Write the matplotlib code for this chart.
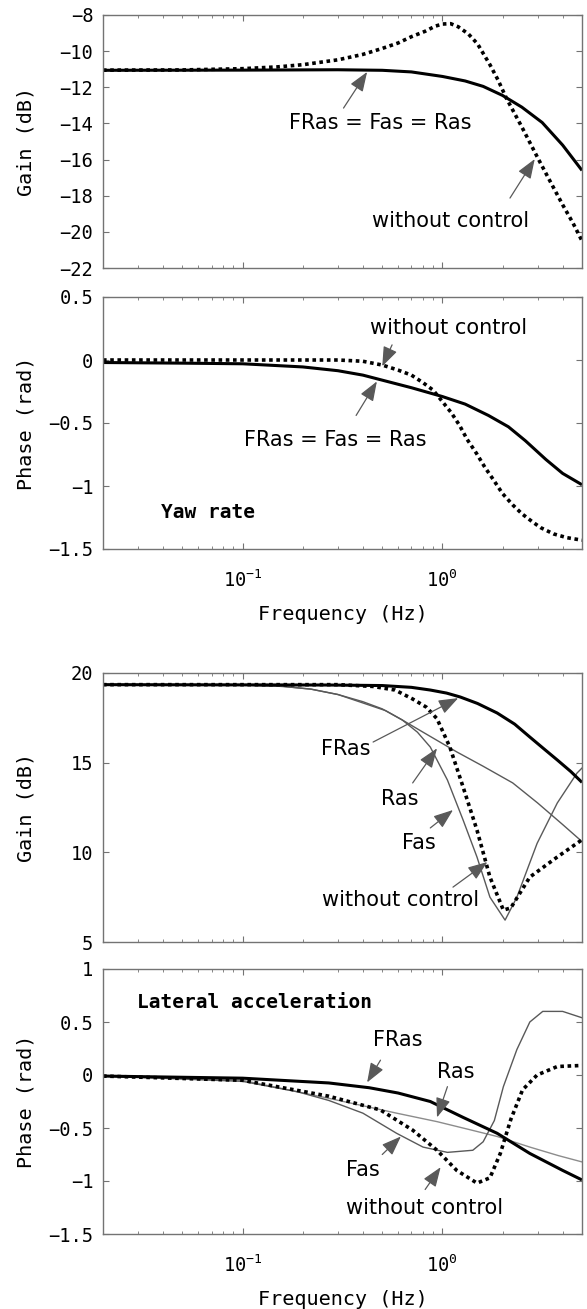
import numpy as np
import matplotlib
matplotlib.use("Agg")
import matplotlib.pyplot as plt
from matplotlib.ticker import NullFormatter, FixedLocator, FixedFormatter

# ---------------------------
# Data
# ---------------------------
# Yaw rate gain (dB)
yg_f_ctrl = [0.02, 0.1, 0.3, 0.5, 0.7, 1.0, 1.3, 1.6, 2.0, 2.5, 3.16, 4.0, 5.0]
yg_ctrl = [-11.06, -11.05, -11.03, -11.06, -11.15, -11.4, -11.65, -11.95, -12.45, -13.1, -13.95, -15.2, -16.6]
yg_f_none = [0.02, 0.05, 0.1, 0.15, 0.2, 0.3, 0.4, 0.5, 0.6, 0.7, 0.82, 0.92, 1.0, 1.1, 1.2,
             1.35, 1.5, 1.73, 1.9, 2.09, 2.5, 3.0, 3.5, 4.0, 4.5, 5.0]
yg_none = [-11.05, -11.04, -10.97, -10.87, -10.75, -10.48, -10.18, -9.85, -9.55, -9.2, -8.9, -8.62,
           -8.5, -8.48, -8.65, -9.05, -9.6, -10.75, -11.6, -12.6, -14.2, -15.9, -17.3, -18.5, -19.5, -20.5]

# Yaw rate phase (rad)
yp_f_ctrl = [0.02, 0.05, 0.1, 0.2, 0.3, 0.4, 0.5, 0.7, 1.0, 1.3, 1.7, 2.14, 2.6, 3.3, 4.0, 5.0]
yp_ctrl = [-0.02, -0.025, -0.03, -0.055, -0.085, -0.12, -0.16, -0.22, -0.29, -0.35, -0.44, -0.53,
           -0.64, -0.79, -0.9, -0.99]
yp_f_none = [0.02, 0.3, 0.4, 0.5, 0.6, 0.7, 0.8, 0.9, 1.0, 1.11, 1.22, 1.33, 1.48, 1.63, 1.8, 2.0,
             2.25, 2.5, 2.8, 3.1, 3.6, 4.2, 5.0]
yp_none = [0.0, 0.0, -0.01, -0.04, -0.08, -0.12, -0.18, -0.24, -0.33, -0.42, -0.52, -0.63, -0.74,
           -0.85, -0.95, -1.06, -1.15, -1.22, -1.28, -1.33, -1.38, -1.41, -1.43]

# Lateral acceleration gain (dB)
lg_f_fras = [0.02, 0.27, 0.5, 0.7, 0.87, 1.05, 1.23, 1.5, 1.88, 2.3, 2.74, 3.2, 3.76, 4.4, 5.0]
lg_fras = [19.35, 19.33, 19.3, 19.2, 19.05, 18.88, 18.66, 18.3, 17.77, 17.15, 16.43, 15.8, 15.15, 14.5, 13.9]
lg_f_ras = [0.02, 0.1, 0.16, 0.22, 0.3, 0.4, 0.5, 0.63, 0.8, 1.18, 1.6, 2.25, 3.0, 4.0, 5.0]
lg_ras = [19.35, 19.33, 19.25, 19.1, 18.8, 18.4, 18.0, 17.38, 16.7, 15.6, 14.8, 13.87, 12.75, 11.55, 10.6]
lg_f_fas = [0.02, 0.1, 0.16, 0.22, 0.3, 0.4, 0.52, 0.63, 0.75, 0.87, 1.06, 1.27, 1.49, 1.73, 2.06,
            2.36, 2.98, 3.76, 4.72, 5.0]
lg_fas = [19.35, 19.33, 19.25, 19.1, 18.8, 18.33, 17.9, 17.38, 16.7, 15.87, 14.03, 11.8, 9.74, 7.5,
          6.22, 7.5, 10.5, 12.75, 14.42, 14.7]
lg_f_none = [0.02, 0.3, 0.45, 0.58, 0.71, 0.83, 0.94, 1.09, 1.27, 1.49, 1.73, 2.02, 2.2, 2.74, 3.76, 5.0]
lg_none = [19.35, 19.35, 19.25, 19.05, 18.55, 18.1, 17.45, 15.87, 13.64, 11.24, 8.62, 6.78, 6.9,
           8.62, 9.74, 10.7]

# Lateral acceleration phase (rad)
lp_f_fras = [0.02, 0.1, 0.27, 0.43, 0.6, 0.87, 1.27, 1.88, 2.74, 4.0, 5.0]
lp_fras = [-0.01, -0.03, -0.075, -0.12, -0.17, -0.25, -0.40, -0.55, -0.74, -0.9, -0.99]
lp_f_ras = [0.02, 0.1, 0.27, 0.4, 0.59, 0.94, 1.4, 1.88, 2.74, 3.8, 5.0]
lp_ras = [-0.01, -0.05, -0.22, -0.29, -0.36, -0.44, -0.52, -0.58, -0.68, -0.76, -0.82]
lp_f_fas = [0.02, 0.1, 0.19, 0.27, 0.40, 0.59, 0.8, 1.06, 1.42, 1.6, 1.82, 2.02, 2.36, 2.74, 3.18,
            4.0, 5.0]
lp_fas = [-0.01, -0.06, -0.16, -0.24, -0.36, -0.55, -0.68, -0.73, -0.71, -0.63, -0.43, -0.11, 0.24,
          0.5, 0.6, 0.6, 0.54]
lp_f_none = [0.02, 0.1, 0.27, 0.49, 0.71, 0.94, 1.18, 1.49, 1.73, 1.95, 2.2, 2.52, 2.98, 3.76, 5.0]
lp_none = [-0.01, -0.05, -0.2, -0.33, -0.52, -0.71, -0.9, -1.02, -0.97, -0.74, -0.42, -0.14, 0.0,
           0.08, 0.09]

# ---------------------------
# Styles
# ---------------------------
mono = "DejaVu Sans Mono"
sans = "DejaVu Sans"
thick = dict(color="black", lw=2.2, solid_capstyle="butt")
dotted = dict(color="black", lw=2.6, linestyle=(0, (1, 1)))
thin_fas = dict(color="0.35", lw=1.0)
thin_ras = dict(color="0.55", lw=1.0)
arrow = dict(arrowstyle="-|>,head_length=0.8,head_width=0.3", color="0.35",
             lw=0.9, mutation_scale=15, shrinkA=0, shrinkB=0)

fig = plt.figure(figsize=(5.87, 13.09), dpi=100)
H = 1309.0
W = 587.0
left = 103 / W
width = 479 / W


def make_ax(top_px, bot_px):
    ax = fig.add_axes([left, 1 - bot_px / H, width, (bot_px - top_px) / H])
    ax.set_xscale("log")
    ax.set_xlim(0.02, 5)
    for s in ax.spines.values():
        s.set_color("0.45")
        s.set_linewidth(1.0)
    ax.tick_params(which="both", direction="in", top=True, right=True,
                   color="0.45", labelsize=13.5, pad=7)
    ax.tick_params(axis="x", which="both", pad=15)
    ax.tick_params(which="major", length=4)
    ax.tick_params(which="minor", length=2.5)
    ax.xaxis.set_minor_formatter(NullFormatter())
    return ax


def yticks(ax, vals, labels):
    ax.yaxis.set_major_locator(FixedLocator(vals))
    ax.yaxis.set_major_formatter(FixedFormatter(labels))
    for lab in ax.get_yticklabels():
        lab.set_fontfamily(mono)


def note(ax, text, txy, tail, head):
    ax.text(txy[0], txy[1], text, family=sans, fontsize=15, ha="center", va="center")
    ax.annotate("", xy=head, xytext=tail, arrowprops=arrow)


def ylab(ax, text):
    ax.set_ylabel(text, family=mono, fontsize=14.5)
    ax.yaxis.set_label_coords(-0.14, 0.5)


# ---------------------------
# Panel 1: yaw rate gain
# ---------------------------
ax1 = make_ax(15, 268)
ax1.plot(yg_f_none, yg_none, **dotted)
ax1.plot(yg_f_ctrl, yg_ctrl, **thick)
ax1.set_ylim(-22, -8)
yticks(ax1, list(range(-22, -7, 2)), ["\u221222", "\u221220", "\u221218", "\u221216",
                                      "\u221214", "\u221212", "\u221210", "\u22128"])
ax1.set_xticklabels([])
ylab(ax1, "Gain (dB)")
note(ax1, "FRas = Fas = Ras", (0.49, -13.95), (0.32, -13.15), (0.42, -11.15))
note(ax1, "without control", (1.10, -19.4), (2.18, -18.13), (2.9, -15.97))

# ---------------------------
# Panel 2: yaw rate phase
# ---------------------------
ax2 = make_ax(297, 549)
ax2.plot(yp_f_none, yp_none, **dotted)
ax2.plot(yp_f_ctrl, yp_ctrl, **thick)
ax2.set_ylim(-1.5, 0.5)
yticks(ax2, [-1.5, -1, -0.5, 0, 0.5], ["\u22121.5", "\u22121", "\u22120.5", "0", "0.5"])
ylab(ax2, "Phase (rad)")
ax2.set_xlabel("Frequency (Hz)", family=mono, fontsize=14.5)
ax2.xaxis.set_label_coords(0.5, -0.222)
note(ax2, "without control", (1.07, 0.25), (0.56, 0.12), (0.50, -0.05))
note(ax2, "FRas = Fas = Ras", (0.29, -0.635), (0.37, -0.44), (0.47, -0.17))
ax2.text(0.039, -1.21, "Yaw rate", family=mono, fontsize=14, weight="bold",
         ha="left", va="center")

# ---------------------------
# Panel 3: lateral acceleration gain
# ---------------------------
ax3 = make_ax(673, 942)
ax3.plot(lg_f_ras, lg_ras, **thin_fas)
ax3.plot(lg_f_fas, lg_fas, **thin_fas)
ax3.plot(lg_f_none, lg_none, **dotted)
ax3.plot(lg_f_fras, lg_fras, **thick)
ax3.set_ylim(5, 20)
yticks(ax3, [5, 10, 15, 20], ["5", "10", "15", "20"])
ax3.set_xticklabels([])
ylab(ax3, "Gain (dB)")
note(ax3, "FRas", (0.33, 15.75), (0.45, 16.15), (1.2, 18.6))
note(ax3, "Ras", (0.61, 13.0), (0.71, 13.87), (0.94, 15.8))
note(ax3, "Fas", (0.76, 10.52), (0.87, 11.36), (1.13, 12.36))
note(ax3, "without control", (0.62, 7.34), (1.13, 8.06), (1.68, 9.46))

# ---------------------------
# Panel 4: lateral acceleration phase
# ---------------------------
ax4 = make_ax(969, 1234)
ax4.plot(lp_f_ras, lp_ras, **thin_ras)
ax4.plot(lp_f_fas, lp_fas, **thin_fas)
ax4.plot(lp_f_none, lp_none, **dotted)
ax4.plot(lp_f_fras, lp_fras, **thick)
ax4.set_ylim(-1.5, 1)
yticks(ax4, [-1.5, -1, -0.5, 0, 0.5, 1], ["\u22121.5", "\u22121", "\u22120.5", "0", "0.5", "1"])
ylab(ax4, "Phase (rad)")
ax4.set_xlabel("Frequency (Hz)", family=mono, fontsize=14.5)
ax4.xaxis.set_label_coords(0.5, -0.211)
ax4.text(0.0297, 0.68, "Lateral acceleration", family=mono, fontsize=14, weight="bold",
         ha="left", va="center")
note(ax4, "FRas", (0.6, 0.33), (0.49, 0.14), (0.42, -0.07))
note(ax4, "Ras", (1.16, 0.03), (1.06, -0.11), (0.94, -0.40))
note(ax4, "Fas", (0.40, -0.9), (0.50, -0.75), (0.62, -0.58))
note(ax4, "without control", (0.81, -1.25), (0.82, -1.08), (0.98, -0.87))

for ax in (ax1, ax2, ax3, ax4):
    for lab in ax.get_xticklabels():
        lab.set_fontfamily(mono)

fig.savefig("out.png", dpi=100)
